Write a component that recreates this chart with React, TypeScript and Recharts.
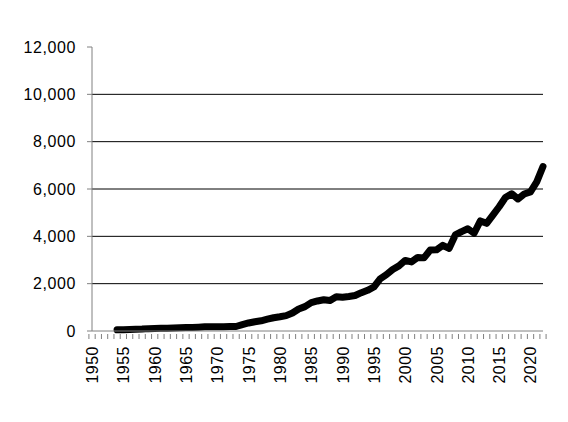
import { LineChart, Line, XAxis, YAxis, CartesianGrid } from 'recharts';

const FIRST_YEAR = 1950;
const LAST_YEAR = 2022;
const YEARS = Array.from({ length: LAST_YEAR - FIRST_YEAR + 1 }, (_, i) => FIRST_YEAR + i);

// values start in 1954, earlier years are empty
const VALUES: (number | null)[] = [
  null, null, null, null,
  50, 55, 60, 70, 80, 100, 110, 115, 120, 130,
  140, 145, 150, 160, 175, 180, 180, 180, 185, 190,
  270, 340, 390, 430, 500, 560, 600, 650, 760, 930,
  1030, 1200, 1270, 1320, 1290, 1450, 1430, 1460, 1500, 1620,
  1720, 1860, 2200, 2380, 2600, 2750, 2980, 2920, 3110, 3090,
  3420, 3430, 3620, 3490, 4060, 4200, 4320, 4130, 4650, 4550,
  4900, 5250, 5640, 5800, 5580, 5790, 5880, 6300, 6950,
];

const Y_TICKS = [0, 2000, 4000, 6000, 8000, 10000, 12000];
const GRID_VALUES = [2000, 4000, 6000, 8000, 10000];

const data = YEARS.map((year, i) => ({ year, value: VALUES[i] }));

const W = 568;
const H = 422;
const LEFT = 92;
const RIGHT = 25;
const BAND = (W - LEFT - RIGHT) / YEARS.length;
const FONT = '"Liberation Sans", Arial, sans-serif';

const YearTick = (props: any) => {
  const { x, y, payload, index } = props;
  const half = BAND / 2;
  const last = index === YEARS.length - 1;
  return (
    <g>
      <line x1={x - half} x2={x - half} y1={y - 5} y2={y} stroke="#808080" />
      {last && <line x1={x + half} x2={x + half} y1={y - 5} y2={y} stroke="#808080" />}
      {payload.value % 5 === 0 && (
        <text
          x={0}
          y={0}
          transform={`translate(${x + 6},${y + 7}) rotate(-90)`}
          textAnchor="end"
          fontSize={16}
          letterSpacing={0.5}
          fontFamily={FONT}
          fill="#000"
        >
          {payload.value}
        </text>
      )}
    </g>
  );
};

export default function App() {
  return (
    <div style={{ position: 'absolute', left: 0, top: 0, background: '#fff' }}>
      <LineChart
        width={W}
        height={H}
        data={data}
        margin={{ top: 47, right: RIGHT, bottom: 0, left: 0 }}
      >
        <CartesianGrid
          vertical={false}
          horizontalValues={GRID_VALUES}
          stroke="#000"
          strokeWidth={1}
        />
        <XAxis
          dataKey="year"
          height={91}
          interval={0}
          tickLine={false}
          axisLine={{ stroke: '#808080' }}
          tick={<YearTick />}
        />
        <YAxis
          width={LEFT}
          domain={[0, 12000]}
          ticks={Y_TICKS}
          interval={0}
          tickSize={5}
          tickMargin={11}
          axisLine={{ stroke: '#808080' }}
          tickLine={{ stroke: '#808080' }}
          tickFormatter={(v: number) => v.toLocaleString('en-US')}
          tick={{ fill: '#000', fontSize: 16, fontFamily: FONT, letterSpacing: 0.6 }}
        />
        <Line
          type="linear"
          dataKey="value"
          stroke="#000"
          strokeWidth={7}
          strokeLinejoin="round"
          strokeLinecap="round"
          dot={false}
          isAnimationActive={false}
        />
      </LineChart>
    </div>
  );
}
